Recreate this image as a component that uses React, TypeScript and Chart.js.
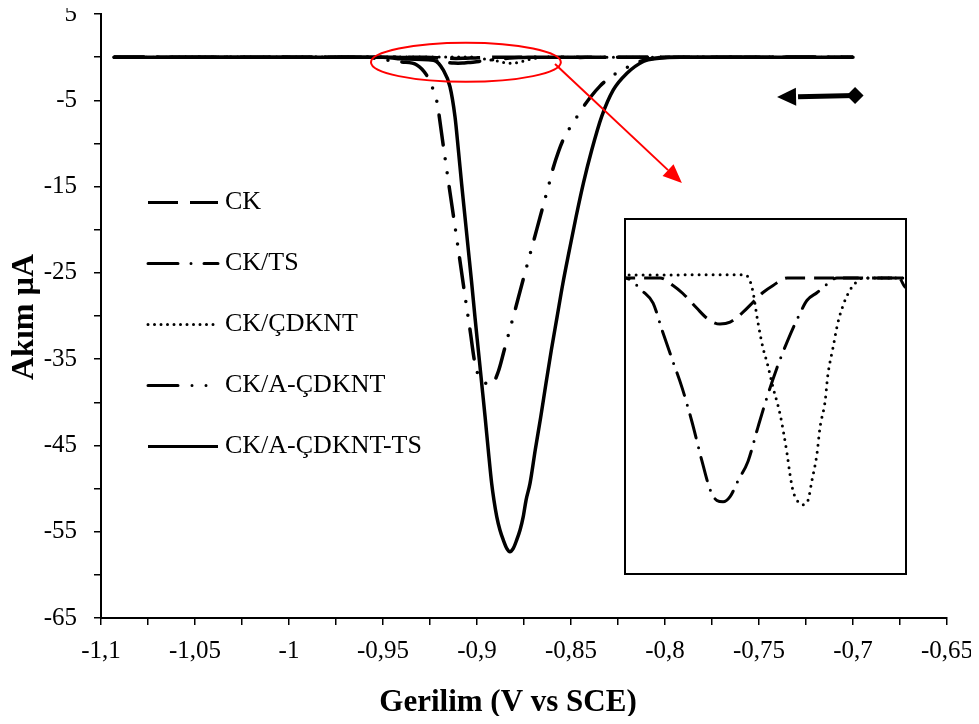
import React, { useEffect, useRef } from 'react';
import { Chart, registerables } from 'chart.js';
Chart.register(...registerables);

const FONT = "'Liberation Serif', 'Times New Roman', Times, serif";

// ---- text ----
const SERIES = ['CK', 'CK/TS', 'CK/ÇDKNT', 'CK/A-ÇDKNT', 'CK/A-ÇDKNT-TS'];
const X_TITLE = 'Gerilim (V vs SCE)';
const Y_TITLE = 'Akım µA';

// ---- axes ----
const X_MIN = -1.1;
const X_MAX = -0.65;
const X_STEP = 0.025;
const Y_MIN = -65;
const Y_MAX = 5;
const Y_STEP = 5;
const INSET_X = [-0.945, -0.845];
const INSET_Y = [-0.918, 0.183];

// ---- data (potential V, current µA) ----
const ckV = [-1.093, -0.945, -0.9325, -0.9279, -0.9244, -0.9194, -0.9158, -0.9112, -0.9076, -0.903, -0.8994, -0.8959, -0.8923, -0.8873, -0.8475, -0.845, -0.84, -0.7];
const ckI = [0, 0, 0, -0.023, -0.048, -0.094, -0.125, -0.143, -0.137, -0.106, -0.075, -0.045, -0.023, 0, 0, -0.03, 0, 0];

const ckTsV = [-1.093, -0.945, -0.9386, -0.935, -0.9318, -0.9279, -0.9247, -0.9212, -0.9176, -0.9148, -0.9123, -0.9101, -0.9076, -0.9048, -0.9012, -0.8977, -0.8945, -0.8909, -0.8873, -0.8827, -0.8802, -0.8766, -0.8728, -0.8696, -0.7];
const ckTsI = [0, 0, -0.042, -0.078, -0.162, -0.26, -0.34, -0.445, -0.568, -0.654, -0.69, -0.694, -0.678, -0.629, -0.568, -0.463, -0.371, -0.278, -0.198, -0.109, -0.069, -0.045, -0.017, 0, 0];

const ckCdV = [-1.093, -0.9023, -0.8998, -0.8977, -0.8959, -0.8945, -0.8923, -0.8898, -0.8873, -0.8863, -0.8852, -0.8834, -0.8817, -0.8799, -0.8785, -0.8767, -0.8756, -0.8738, -0.8728, -0.871, -0.8692, -0.8674, -0.8656, -0.8632, -0.8603, -0.7];
const ckCdI = [0, 0.01, -0.029, -0.137, -0.217, -0.26, -0.34, -0.423, -0.546, -0.608, -0.66, -0.694, -0.703, -0.69, -0.629, -0.546, -0.463, -0.383, -0.3, -0.217, -0.137, -0.085, -0.048, -0.017, 0, 0];

const ckAV = [-1.093, -0.96, -0.95, -0.94, -0.932, -0.9268, -0.9232, -0.9215, -0.9179, -0.9144, -0.9108, -0.9073, -0.9037, -0.9011, -0.8993, -0.8966, -0.8922, -0.8887, -0.8855, -0.8807, -0.876, -0.8712, -0.8664, -0.8616, -0.8594, -0.8567, -0.8541, -0.8514, -0.8488, -0.8452, -0.8399, -0.8346, -0.8293, -0.8222, -0.8151, -0.808, -0.795, -0.7];
const ckAI = [0, 0, -0.3, -0.55, -0.9, -2.09, -3.82, -4.98, -10.31, -15.64, -20.97, -26.3, -31.63, -35.5, -36.85, -37.62, -37.89, -36.46, -33.95, -30.09, -26.23, -22.36, -18.5, -14.64, -12.78, -10.97, -9.54, -8.46, -7.61, -6.33, -4.71, -3.36, -2.36, -1.43, -0.66, -0.19, 0, 0];

const ckAtsV = [-1.093, -0.95, -0.94, -0.9232, -0.9179, -0.9144, -0.9117, -0.9099, -0.9082, -0.9064, -0.9046, -0.9028, -0.9011, -0.8993, -0.8975, -0.8957, -0.894, -0.8922, -0.891, -0.8895, -0.8878, -0.886, -0.8842, -0.8825, -0.8807, -0.8789, -0.8771, -0.8754, -0.8739, -0.8718, -0.869, -0.8661, -0.8633, -0.8605, -0.8574, -0.8543, -0.8509, -0.8473, -0.8434, -0.839, -0.8337, -0.8275, -0.8204, -0.8115, -0.8044, -0.792, -0.7];
const ckAtsI = [0, 0, -0.2, -0.35, -1.5, -3.4, -6.91, -10.78, -14.64, -18.5, -22.36, -26.23, -30.09, -33.95, -37.81, -41.68, -45.54, -49.4, -51.33, -53.26, -54.81, -55.97, -56.93, -57.32, -56.93, -55.97, -54.81, -53.26, -51.33, -49.4, -45.5, -41.7, -37.8, -34.0, -30.1, -26.2, -22.4, -18.5, -14.6, -10.8, -6.9, -3.8, -1.9, -0.5, -0.15, 0, 0];

// ---- annotation anchors (data space) ----
const ELLIPSE = { cx: -0.9059, cy: -0.6, rx: 0.0505, ry: 2.26 };
const RED_ARROW = { x0: -0.8585, y0: -0.8, x1: -0.791, y1: -14.6 };
const SCAN_ARROW = { x0: -0.7404, y0: -4.63, x1: -0.6989, y1: -4.45 };

type Style = { dash: number[]; width: number; cap: CanvasLineCap };
const MAIN_STYLE: Style[] = [
  { dash: [30, 12], width: 3.5, cap: 'butt' },
  { dash: [30, 13, 0, 13], width: 3.5, cap: 'round' },
  { dash: [0, 6.5], width: 3, cap: 'round' },
  { dash: [30, 14, 0, 14, 0, 14], width: 3.5, cap: 'round' },
  { dash: [], width: 3.5, cap: 'butt' },
];
const INSET_STYLE: Style[] = [
  { dash: [20, 9], width: 3, cap: 'butt' },
  { dash: [24, 10, 0, 10], width: 3, cap: 'round' },
  { dash: [0, 7], width: 3, cap: 'round' },
];

const pts = (xs: number[], ys: number[]) => xs.map((x, i) => ({ x, y: ys[i] }));

const zeroPad = (s: any) => {
  s.paddingTop = 0;
  s.paddingBottom = 0;
  s.paddingLeft = 0;
  s.paddingRight = 0;
};

export default function App() {
  const mainRef = useRef<HTMLCanvasElement>(null);
  const insetRef = useRef<HTMLCanvasElement>(null);

  useEffect(() => {
    const series = [pts(ckV, ckI), pts(ckTsV, ckTsI), pts(ckCdV, ckCdI), pts(ckAV, ckAI), pts(ckAtsV, ckAtsI)];

    const overlay = {
      id: 'overlay',
      afterDraw(chart: any) {
        const { ctx, scales } = chart;
        const xs = scales.x;
        const ys = scales.y;
        const px = (v: number) => xs.getPixelForValue(v);
        const py = (v: number) => ys.getPixelForValue(v);
        ctx.save();
        ctx.fillStyle = '#000';
        // axis titles
        ctx.font = `bold 31px ${FONT}`;
        ctx.textAlign = 'center';
        ctx.textBaseline = 'alphabetic';
        ctx.fillText(X_TITLE, 508, 711);
        ctx.save();
        ctx.translate(33, 317);
        ctx.rotate(-Math.PI / 2);
        ctx.font = `bold 32px ${FONT}`;
        ctx.fillText(Y_TITLE, 0, 0);
        ctx.restore();

        // legend
        ctx.font = `26px ${FONT}`;
        ctx.textAlign = 'left';
        ctx.textBaseline = 'middle';
        SERIES.forEach((name, i) => {
          const y = 202.5 + i * 61;
          const s = MAIN_STYLE[i];
          ctx.save();
          ctx.strokeStyle = '#000';
          ctx.lineWidth = 3;
          ctx.lineCap = s.cap;
          ctx.setLineDash(s.dash);
          ctx.beginPath();
          ctx.moveTo(148, y);
          ctx.lineTo(218, y);
          ctx.stroke();
          ctx.restore();
          ctx.fillText(name, 225, y);
        });

        // red ellipse
        ctx.strokeStyle = '#ff0000';
        ctx.fillStyle = '#ff0000';
        ctx.lineWidth = 2;
        ctx.setLineDash([]);
        const ecx = px(ELLIPSE.cx);
        const ecy = py(ELLIPSE.cy);
        const erx = Math.abs(px(ELLIPSE.cx + ELLIPSE.rx) - ecx);
        const ery = Math.abs(py(ELLIPSE.cy + ELLIPSE.ry) - ecy);
        ctx.beginPath();
        ctx.ellipse(ecx, ecy, erx, ery, 0, 0, Math.PI * 2);
        ctx.stroke();

        // red arrow
        const ax0 = px(RED_ARROW.x0), ay0 = py(RED_ARROW.y0);
        const ax1 = px(RED_ARROW.x1), ay1 = py(RED_ARROW.y1);
        const ang = Math.atan2(ay1 - ay0, ax1 - ax0);
        const hl = 19, hw = 8;
        const bx = ax1 - hl * Math.cos(ang), by = ay1 - hl * Math.sin(ang);
        ctx.beginPath();
        ctx.moveTo(ax0, ay0);
        ctx.lineTo(bx, by);
        ctx.stroke();
        ctx.beginPath();
        ctx.moveTo(ax1, ay1);
        ctx.lineTo(bx + hw * Math.sin(ang), by - hw * Math.cos(ang));
        ctx.lineTo(bx - hw * Math.sin(ang), by + hw * Math.cos(ang));
        ctx.closePath();
        ctx.fill();

        // black scan-direction arrow
        const sx0 = px(SCAN_ARROW.x0), sy0 = py(SCAN_ARROW.y0);
        const sx1 = px(SCAN_ARROW.x1), sy1 = py(SCAN_ARROW.y1);
        const sa = Math.atan2(sy0 - sy1, sx0 - sx1);
        const shl = 19, shw = 9;
        const sbx = sx0 - shl * Math.cos(sa), sby = sy0 - shl * Math.sin(sa);
        ctx.fillStyle = '#000';
        ctx.strokeStyle = '#000';
        ctx.lineWidth = 5;
        ctx.beginPath();
        ctx.moveTo(sbx + 2, sby);
        ctx.lineTo(sx1, sy1);
        ctx.stroke();
        ctx.beginPath();
        ctx.moveTo(sx0, sy0);
        ctx.lineTo(sbx + shw * Math.sin(sa), sby - shw * Math.cos(sa));
        ctx.lineTo(sbx - shw * Math.sin(sa), sby + shw * Math.cos(sa));
        ctx.closePath();
        ctx.fill();
        ctx.beginPath();
        ctx.moveTo(sx1 - 8.5, sy1);
        ctx.lineTo(sx1, sy1 - 8.5);
        ctx.lineTo(sx1 + 8.5, sy1);
        ctx.lineTo(sx1, sy1 + 8.5);
        ctx.closePath();
        ctx.fill();
        ctx.restore();
      },
    };

    const main = new Chart(mainRef.current as HTMLCanvasElement, {
      type: 'line',
      data: {
        datasets: series.map((d, i) => ({
          label: SERIES[i],
          data: d,
          borderColor: '#000',
          borderWidth: MAIN_STYLE[i].width,
          borderDash: MAIN_STYLE[i].dash,
          borderCapStyle: MAIN_STYLE[i].cap,
          borderJoinStyle: 'round',
          pointRadius: 0,
          fill: false,
          cubicInterpolationMode: 'monotone',
        })),
      },
      options: {
        responsive: false,
        animation: false,
        events: [],
        layout: { autoPadding: false, padding: { left: 8, top: 14, right: 32, bottom: 0 } },
        plugins: { legend: { display: false }, tooltip: { enabled: false }, title: { display: false } },
        scales: {
          x: {
            type: 'linear',
            min: X_MIN,
            max: X_MAX,
            afterFit: (s: any) => { s.height = 98; zeroPad(s); },
            border: { display: true, color: '#000', width: 2 },
            grid: { display: true, drawOnChartArea: false, drawTicks: true, tickLength: 7, color: '#000', lineWidth: 1.5 },
            ticks: {
              stepSize: X_STEP,
              autoSkip: false,
              maxRotation: 0,
              padding: 11,
              color: '#000',
              font: { family: FONT, size: 25 },
              callback: (value: any) => {
                const v = Number(value);
                const k = Math.round(v * 20);
                if (Math.abs(k - v * 20) > 1e-6) return '';
                return String(Number(v.toFixed(2))).replace('.', ',');
              },
            },
          },
          y: {
            type: 'linear',
            min: Y_MIN,
            max: Y_MAX,
            afterFit: (s: any) => { s.width = 93; zeroPad(s); },
            border: { display: true, color: '#000', width: 2 },
            grid: { display: true, drawOnChartArea: false, drawTicks: true, tickLength: 7, color: '#000', lineWidth: 1.5 },
            ticks: {
              stepSize: Y_STEP,
              autoSkip: false,
              padding: 17,
              color: '#000',
              font: { family: FONT, size: 25 },
              callback: (value: any) => {
                const v = Math.round(Number(value));
                return (v - 5) % 10 === 0 ? String(v) : '';
              },
            },
          },
        },
      },
      plugins: [overlay],
    } as any);

    const box = {
      id: 'box',
      beforeDraw(chart: any) {
        const { ctx, chartArea: a } = chart;
        ctx.save();
        ctx.fillStyle = '#fff';
        ctx.fillRect(a.left, a.top, a.right - a.left, a.bottom - a.top);
        ctx.restore();
      },
      afterDraw(chart: any) {
        const { ctx, chartArea: a } = chart;
        ctx.save();
        ctx.strokeStyle = '#000';
        ctx.lineWidth = 2;
        ctx.setLineDash([]);
        ctx.strokeRect(a.left, a.top, a.right - a.left, a.bottom - a.top);
        ctx.restore();
      },
    };

    const inset = new Chart(insetRef.current as HTMLCanvasElement, {
      type: 'line',
      data: {
        datasets: series.slice(0, 3).map((d, i) => ({
          label: SERIES[i],
          data: d,
          borderColor: '#000',
          borderWidth: INSET_STYLE[i].width,
          borderDash: INSET_STYLE[i].dash,
          borderCapStyle: INSET_STYLE[i].cap,
          borderJoinStyle: 'round',
          pointRadius: 0,
          fill: false,
          cubicInterpolationMode: 'monotone',
        })),
      },
      options: {
        responsive: false,
        animation: false,
        events: [],
        layout: { autoPadding: false, padding: 2 },
        plugins: { legend: { display: false }, tooltip: { enabled: false } },
        scales: {
          x: { type: 'linear', display: false, min: INSET_X[0], max: INSET_X[1] },
          y: { type: 'linear', display: false, min: INSET_Y[0], max: INSET_Y[1] },
        },
      },
      plugins: [box],
    } as any);

    return () => {
      main.destroy();
      inset.destroy();
    };
  }, []);

  return (
    <div style={{ position: 'relative', width: 979, height: 716, margin: '-8px 0 0 -8px' }}>
      <canvas ref={mainRef} width={979} height={716} style={{ display: 'block', position: 'absolute', left: 0, top: 0 }} />
      <canvas ref={insetRef} width={285} height={359} style={{ display: 'block', position: 'absolute', left: 623, top: 217 }} />
    </div>
  );
}
